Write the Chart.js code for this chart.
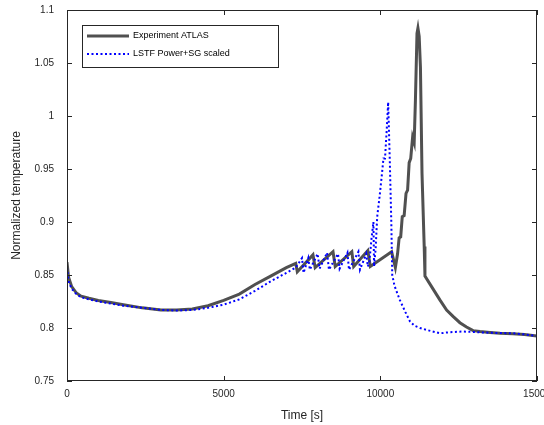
<!DOCTYPE html>
<html>
<head>
<meta charset="utf-8">
<script src="https://cdn.jsdelivr.net/npm/chart.js@4"></script>
<style>
  html, body { margin: 0; padding: 0; background: #fff; }
</style>
</head>
<body>
<canvas id="tempChart" width="544" height="425"></canvas>
<script>
// Experiment ATLAS
const atlasTime = [0, 50, 150, 300, 450, 700, 1000, 1400, 1800, 2400, 3000, 3500, 4000, 4500, 5000, 5500, 6000, 6500, 7000, 7300, 7350, 7850, 7920, 8490, 8560, 9090, 9150, 9600, 9680, 10360, 10480, 10550, 10600, 10650, 10700, 10760, 10820, 10870, 10920, 10970, 11030, 11080, 11120, 11170, 11200, 11240, 11280, 11330, 11400, 11424, 11700, 11900, 12115, 12320, 12540, 12750, 12960, 13180, 13500, 13820, 14230, 14600, 15000];
const atlasTemp = [0.862, 0.848, 0.839, 0.833, 0.830, 0.828, 0.826, 0.824, 0.822, 0.819, 0.817, 0.817, 0.818, 0.821, 0.826, 0.832, 0.841, 0.849, 0.857, 0.861, 0.853, 0.869, 0.857, 0.872, 0.858, 0.872, 0.858, 0.873, 0.858, 0.872, 0.857, 0.870, 0.885, 0.886, 0.905, 0.906, 0.927, 0.930, 0.956, 0.960, 0.980, 0.975, 1.015, 1.078, 1.083, 1.075, 1.046, 0.946, 0.877, 0.849, 0.836, 0.8265, 0.817, 0.811, 0.805, 0.801, 0.7975, 0.7967, 0.7958, 0.795, 0.7945, 0.7938, 0.7925];

// LSTF Power+SG scaled
const lstfTime = [0, 50, 150, 300, 450, 700, 1000, 1400, 1800, 2400, 3000, 3500, 4000, 4500, 5000, 5500, 6000, 6500, 7000, 7300, 7500, 7550, 7700, 7750, 8000, 8060, 8300, 8360, 8650, 8700, 8950, 9000, 9300, 9350, 9550, 9600, 9650, 9720, 9780, 9800, 9850, 9900, 9980, 10050, 10100, 10150, 10200, 10250, 10300, 10350, 10380, 10450, 10620, 10800, 10950, 11100, 11270, 11500, 11700, 11900, 12200, 12640, 13000, 13500, 14230, 14600, 15000];
const lstfTemp = [0.857, 0.844, 0.837, 0.832, 0.829, 0.827, 0.825, 0.823, 0.821, 0.819, 0.817, 0.8165, 0.817, 0.819, 0.822, 0.827, 0.835, 0.844, 0.852, 0.857, 0.866, 0.852, 0.866, 0.855, 0.870, 0.856, 0.871, 0.855, 0.870, 0.856, 0.871, 0.855, 0.872, 0.855, 0.870, 0.858, 0.862, 0.885, 0.900, 0.858, 0.875, 0.905, 0.925, 0.945, 0.960, 0.960, 0.985, 1.013, 0.960, 0.900, 0.850, 0.840, 0.8265, 0.815, 0.806, 0.802, 0.800, 0.798, 0.7965, 0.795, 0.796, 0.7967, 0.7962, 0.7955, 0.795, 0.794, 0.7925];

const xTicks = [0, 5000, 10000, 15000];
const yTicks = [0.75, 0.8, 0.85, 0.9, 0.95, 1, 1.05, 1.1];

const toPoints = (xs, ys) => xs.map((x, i) => ({ x, y: ys[i] }));

// box, inward ticks on all four sides, and the legend box inside the axes
const frameAndLegend = {
  id: "frameAndLegend",
  afterDatasetsDraw(chart) {
    const { ctx, chartArea: a, scales } = chart;
    ctx.save();
    ctx.strokeStyle = "#262626";
    ctx.lineWidth = 1;
    ctx.strokeRect(a.left + 0.5, a.top + 0.5, a.right - a.left - 1, a.bottom - a.top - 1);
    ctx.beginPath();
    xTicks.forEach(v => {
      const px = Math.round(scales.x.getPixelForValue(v)) + 0.5;
      ctx.moveTo(px, a.bottom); ctx.lineTo(px, a.bottom - 5);
      ctx.moveTo(px, a.top); ctx.lineTo(px, a.top + 5);
    });
    yTicks.forEach(v => {
      const py = Math.round(scales.y.getPixelForValue(v)) + 0.5;
      ctx.moveTo(a.left, py); ctx.lineTo(a.left + 5, py);
      ctx.moveTo(a.right, py); ctx.lineTo(a.right - 5, py);
    });
    ctx.stroke();

    // legend
    const lx = 82, ly = 25, lw = 196, lh = 42;
    ctx.fillStyle = "#fff";
    ctx.fillRect(lx, ly, lw, lh);
    ctx.strokeStyle = "#262626";
    ctx.strokeRect(lx + 0.5, ly + 0.5, lw, lh);
    ctx.font = "9px 'Liberation Sans', Arial, sans-serif";
    ctx.textBaseline = "middle";
    ctx.fillStyle = "#000";
    chart.data.datasets.forEach((ds, i) => {
      const y = ly + 11 + i * 18;
      ctx.beginPath();
      ctx.strokeStyle = ds.borderColor;
      ctx.lineWidth = ds.borderWidth;
      ctx.setLineDash(ds.borderDash || []);
      ctx.moveTo(lx + 5, y);
      ctx.lineTo(lx + 47, y);
      ctx.stroke();
      ctx.setLineDash([]);
      ctx.fillText(ds.label, lx + 51, y);
    });
    ctx.restore();
  }
};

const tickFont = { family: "'Liberation Sans', Arial, sans-serif", size: 10 };
const titleFont = { family: "'Liberation Sans', Arial, sans-serif", size: 12 };

new Chart(document.getElementById("tempChart"), {
  type: "line",
  data: {
    datasets: [
      {
        label: "Experiment ATLAS",
        data: toPoints(atlasTime, atlasTemp),
        borderColor: "#505050",
        borderWidth: 3,
        pointRadius: 0,
        tension: 0,
        order: 2
      },
      {
        label: "LSTF Power+SG scaled",
        data: toPoints(lstfTime, lstfTemp),
        borderColor: "#0000ff",
        borderWidth: 2,
        borderDash: [2, 2.5],
        pointRadius: 0,
        tension: 0,
        order: 1
      }
    ]
  },
  options: {
    responsive: false,
    animation: false,
    layout: { padding: { top: 10, right: 7, left: 0, bottom: 0 } },
    plugins: { legend: { display: false }, tooltip: { enabled: false } },
    scales: {
      x: {
        type: "linear",
        min: 0,
        max: 15000,
        afterFit: s => { s.height = 44; s.paddingLeft = 0; s.paddingRight = 0; },
        afterBuildTicks: s => { s.ticks = xTicks.map(v => ({ value: v })); },
        grid: { display: false, drawTicks: false },
        border: { display: false },
        ticks: { color: "#262626", font: tickFont, padding: 7, maxRotation: 0, callback: v => String(v) },
        title: { display: true, text: "Time [s]", color: "#262626", font: titleFont, padding: { top: 0, bottom: 2 } }
      },
      y: {
        min: 0.75,
        max: 1.1,
        afterFit: s => { s.width = 67; s.paddingTop = 0; s.paddingBottom = 0; },
        afterBuildTicks: s => { s.ticks = yTicks.map(v => ({ value: v })); },
        grid: { display: false, drawTicks: false },
        border: { display: false },
        ticks: { color: "#262626", font: tickFont, padding: 13, callback: v => String(Number(v.toFixed(2))) },
        title: { display: true, text: "Normalized temperature", color: "#262626", font: titleFont, padding: { top: 9, bottom: 0 } }
      }
    }
  },
  plugins: [frameAndLegend]
});
</script>
</body>
</html>
